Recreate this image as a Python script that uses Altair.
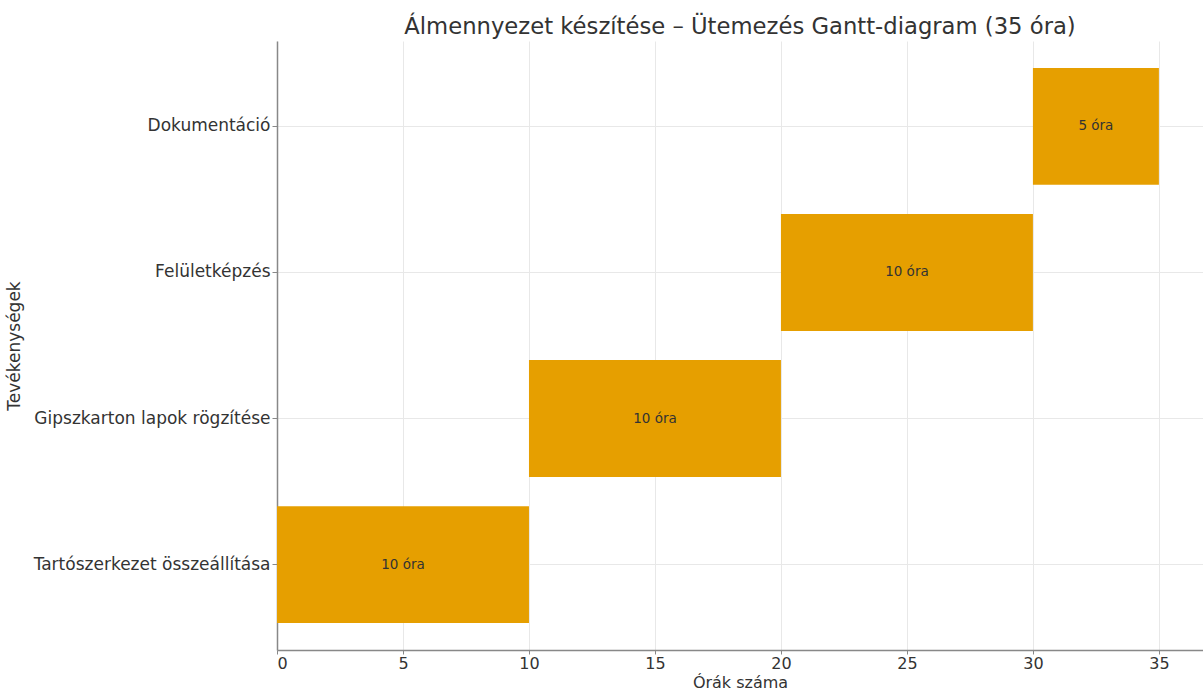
import altair as alt
import pandas as pd

tasks = ["Tartószerkezet összeállítása", "Gipszkarton lapok rögzítése", "Felületképzés", "Dokumentáció"]
starts = [0, 10, 20, 30]
durations = [10, 10, 10, 5]
labels = ["10 óra", "10 óra", "10 óra", "5 óra"]
x_ticks = [0, 5, 10, 15, 20, 25, 30, 35]

df = pd.DataFrame({"task": tasks, "start": starts, "dur": durations, "label": labels})
order = list(reversed(tasks))

FONT = "DejaVu Sans"
LBL = 17

base = alt.Chart(df).transform_calculate(
    end="datum.start + datum.dur", mid="datum.start + datum.dur / 2"
)

y_enc = alt.Y(
    "task:N",
    sort=order,
    scale=alt.Scale(paddingInner=0.2, paddingOuter=0.185),
    axis=alt.Axis(
        title="Tevékenységek",
        titleX=-254,
        titleFontSize=LBL,
        titleFontWeight="normal",
        titleColor="#333333",
        labelFontSize=LBL,
        labelColor="#333333",
        labelPadding=2,
        labelLimit=400,
        tickSize=5,
        tickColor="#888888",
        domainColor="#888888",
        domainWidth=1.5,
        grid=True,
        gridColor="#e8e8e8",
        bandPosition=0.5,
    ),
)

x_scale = alt.Scale(domain=[0, 36.75], nice=False, zero=False)
x_axis = alt.Axis(
    title="Órák száma",
    values=x_ticks,
    titleFontSize=16,
    titleFontWeight="normal",
    titleColor="#333333",
    titlePadding=3,
    labelFontSize=16,
    labelColor="#333333",
    labelPadding=1,
    tickSize=4,
    tickColor="#888888",
    domainColor="#888888",
    domainWidth=1.5,
    grid=True,
    gridColor="#e8e8e8",
)

bars = base.mark_bar(color="#E69F00").encode(
    x=alt.X("start:Q", scale=x_scale, axis=x_axis),
    x2="end:Q",
    y=y_enc,
)

text = base.mark_text(fontSize=13.5, color="#333333", font=FONT).encode(
    x=alt.X("mid:Q", scale=x_scale),
    y=alt.Y("task:N", sort=order),
    text="label:N",
)

chart = (
    alt.layer(bars, text)
    .properties(
        width=926,
        height=609,
        autosize=alt.AutoSizeParams(type="none"),
        padding={"left": 277, "top": 41, "right": 0, "bottom": 42},
        title=alt.TitleParams(
            "Álmennyezet készítése – Ütemezés Gantt-diagram (35 óra)",
            fontSize=22.7,
            fontWeight="normal",
            color="#333333",
            anchor="middle",
            offset=2,
            font=FONT,
        ),
    )
    .configure(font=FONT)
    .configure_view(stroke=None)
    .configure_axis(labelFont=FONT, titleFont=FONT)
)

chart.save("out.html", embed_options={"renderer": "svg", "actions": False})
